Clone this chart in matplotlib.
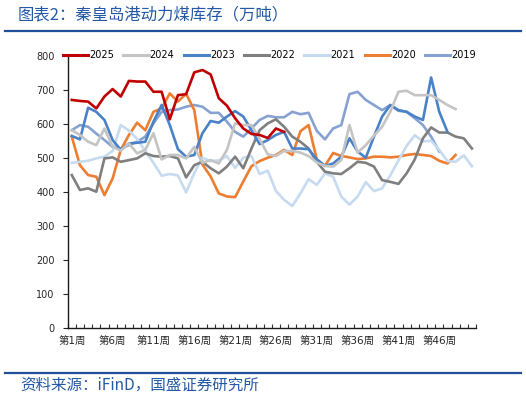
import matplotlib
matplotlib.use("Agg")
import matplotlib.pyplot as plt
from matplotlib.lines import Line2D

plt.rcParams['font.family'] = ['DejaVu Sans', 'Noto Sans CJK SC']

# weekly inventory, 10k tonnes
y2025 = [670, 667, 665, 645, 680, 702, 680, 726, 724, 724, 694, 694, 613, 684, 687, 751, 758, 745,
         675, 653, 616, 586, 570, 567, 558, 586, 576]
y2024 = [581, 567, 547, 537, 586, 532, 521, 542, 513, 523, 572, 495, 508, 508, 498, 532, 485, 493,
         483, 523, 601, 596, 596, 555, 510, 505, 520, 520, 515, 505, 486, 476, 474, 493, 596, 515,
         537, 565, 591, 635, 694, 697, 684, 684, 684, 670, 655, 643]
y2023 = [564, 554, 647, 635, 611, 552, 523, 542, 544, 547, 606, 655, 596, 525, 503, 508, 572, 608,
         603, 621, 637, 621, 581, 540, 552, 567, 576, 527, 527, 525, 495, 476, 483, 503, 557, 518,
         500, 562, 621, 655, 640, 635, 621, 611, 736, 635, 576]
y2022 = [449, 405, 410, 400, 498, 501, 488, 493, 498, 513, 505, 503, 505, 498, 442, 478, 488, 469,
         454, 474, 503, 469, 527, 581, 601, 613, 591, 562, 547, 527, 488, 459, 454, 452, 469, 488,
         485, 474, 434, 429, 423, 454, 495, 557, 589, 574, 574, 562, 557, 527]
y2021 = [485, 488, 491, 498, 503, 520, 596, 580, 555, 520, 485, 447, 452, 448, 398, 455, 500, 490,
         492, 505, 470, 500, 505, 452, 462, 402, 376, 358, 395, 437, 420, 454, 444, 386, 362, 386,
         428, 402, 410, 448, 492, 535, 566, 548, 550, 523, 490, 488, 507, 475]
y2020 = [562, 478, 449, 444, 390, 439, 523, 567, 603, 581, 635, 645, 689, 665, 688, 640, 480, 445,
         395, 386, 384, 430, 475, 490, 500, 508, 523, 508, 578, 596, 495, 476, 514, 505, 501, 496,
         498, 503, 503, 501, 503, 508, 511, 508, 505, 491, 483, 508]
y2019 = [581, 596, 591, 571, 552, 532, 527, 537, 547, 562, 601, 635, 640, 642, 650, 655, 650, 632,
         632, 606, 576, 562, 586, 611, 623, 619, 619, 635, 628, 632, 579, 554, 586, 596, 687, 694,
         670, 655, 640, 655, 638, 635, 616, 596, 562, 518]

years = ['2025', '2024', '2023', '2022', '2021', '2020', '2019']
series = [y2025, y2024, y2023, y2022, y2021, y2020, y2019]
colors = ['#C00000', '#C4C4C4', '#4A82C8', '#7F7F7F', '#C6DAF0', '#ED7D31', '#87A2D2']
n_weeks = 50
tick_weeks = [1, 6, 11, 16, 21, 26, 31, 36, 41, 46]

fig = plt.figure(figsize=(5.26, 3.98), dpi=100)
ax = fig.add_axes([0.1287, 0.1766, 0.7763, 0.6834])

# later years first so 2025 ends up on top
for name, vals, c in reversed(list(zip(years, series, colors))):
    ax.plot(range(1, len(vals) + 1), vals, color=c, lw=1.9, solid_joinstyle='round')

ax.set_xlim(0.5, n_weeks + 0.5)
ax.set_ylim(0, 800)
ax.set_yticks(range(0, 801, 100))
ax.set_xticks(tick_weeks)
ax.set_xticklabels(['第%d周' % w for w in tick_weeks])
ax.set_xticks([i + 0.5 for i in range(0, n_weeks + 1)], minor=True)
ax.tick_params(axis='x', which='major', length=0, pad=6, labelsize=7.5, colors='#262626')
ax.tick_params(axis='x', which='minor', direction='in', length=3, width=0.8, color='#333333')
ax.tick_params(axis='y', direction='out', length=3.5, width=0.8, pad=6, labelsize=7, colors='#262626')
for s in ['top', 'right']:
    ax.spines[s].set_visible(False)
for s in ['left', 'bottom']:
    ax.spines[s].set_color('#1a1a1a')
    ax.spines[s].set_linewidth(1.0)

handles = [Line2D([0], [0], color=c, lw=2.2) for c in colors]
fig.legend(handles, years, loc='center left', bbox_to_anchor=(0.12, 0.862), ncol=7,
           frameon=False, fontsize=7, handlelength=2.6, handletextpad=0.1, columnspacing=0.95,
           borderpad=0, borderaxespad=0)

blue = '#2459A6'
fig.text(0.034, 0.963, '图表2：秦皇岛港动力煤库存（万吨）', fontsize=11.8, color=blue,
         family=['Noto Sans CJK SC', 'DejaVu Sans'], style='italic', va='center', ha='left')
fig.add_artist(Line2D([0.01, 0.99], [0.921, 0.921], color='#1F4E9A', lw=1.6))
fig.add_artist(Line2D([0.01, 0.99], [0.062, 0.062], color='#1F4E9A', lw=1.6))
fig.text(0.038, 0.032, '资料来源：iFinD，国盛证券研究所', fontsize=11.2, color=blue,
         family=['Noto Sans CJK SC', 'DejaVu Sans'], style='italic', va='center', ha='left')

fig.savefig('out.png', dpi=100)
